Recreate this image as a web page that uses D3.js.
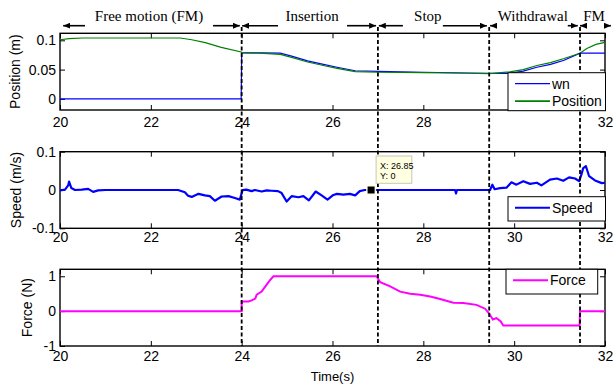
<!DOCTYPE html>
<html>
<head>
<meta charset="utf-8">
<script src="https://cdnjs.cloudflare.com/ajax/libs/d3/7.8.5/d3.min.js"></script>
<style>
  body { margin: 0; background: #fff; }
  svg { display: block; font-family: "Liberation Sans", Arial, sans-serif; }
</style>
</head>
<body>
<svg id="chart" width="613" height="389"></svg>
<script>
"use strict";

// tick values and labels
var xTicks = [20, 22, 24, 26, 28, 30, 32];
var xTickLabels = ["20", "22", "24", "26", "28", "30", "32"];
var xTickLabelsTop = ["20", "22", "24", "26", "28", "", "32"];
var posTicks = [0, 0.05, 0.1];
var posTickLabels = ["0", "0.05", "0.1"];
var speedTicks = [-0.1, 0, 0.1];
var speedTickLabels = ["-0.1", "0", "0.1"];
var forceTicks = [-1, 0, 1];
var forceTickLabels = ["-1", "0", "1"];

// phases
var phaseBounds = [24, 27, 29.45, 31.45];
var phaseNames = ["Free motion (FM)", "Insertion", "Stop", "Withdrawal", "FM"];
var phaseLabelAt = [21.96, 25.55, 28.1, 30.41, 31.76];
// [tail, head] in seconds
var phaseArrows = [
    [20.55, 20.07], [23.37, 23.96],
    [24.8, 24.01], [26.32, 26.96],
    [27.55, 27.02], [28.43, 29.4],
    [29.62, 29.47], [31.18, 31.4],
    [31.6, 31.45], [31.98, 32.13]
];

// [t, wn, position]
var positionData = [
    [20.0, 0, 0.101], [20.2, 0, 0.103], [20.5, 0, 0.104], [22.0, 0, 0.104],
    [22.65, 0, 0.104], [22.9, 0, 0.101], [23.2, 0, 0.096], [23.55, 0, 0.088],
    [23.99, 0, 0.08], [24.0, 0.0785, 0.079], [24.4, 0.0785, 0.078],
    [24.85, 0.078, 0.076], [25.1, 0.073, 0.071], [25.45, 0.065, 0.063],
    [25.8, 0.059, 0.057], [26.1, 0.054, 0.052], [26.5, 0.048, 0.0465],
    [27.0, 0.047, 0.0455], [28.0, 0.0455, 0.0448], [29.0, 0.0442, 0.0438],
    [29.45, 0.0436, 0.0432], [29.9, 0.0436, 0.046], [30.2, 0.0475, 0.05],
    [30.5, 0.054, 0.057], [30.8, 0.059, 0.062], [31.1, 0.066, 0.069],
    [31.45, 0.078, 0.078], [31.6, 0.078, 0.086], [31.8, 0.078, 0.093],
    [32.0, 0.078, 0.0965]
];

// [t, speed]
var speedData = [
    [20.0, -0.001], [20.11, 0.001], [20.18, 0.012], [20.2, 0.022], [20.25, 0.005],
    [20.33, 0.0], [20.48, 0.001], [20.62, 0.003], [20.73, -0.005], [20.84, -0.001],
    [21.0, 0.0], [21.5, 0.0], [22.0, 0.0], [22.53, 0.0], [22.6, 0.0],
    [22.75, -0.006], [22.82, -0.015], [22.9, -0.018], [23.05, -0.01], [23.19, -0.014],
    [23.3, -0.016], [23.41, -0.028], [23.56, -0.017], [23.71, -0.016], [23.85, -0.021],
    [23.96, -0.025], [24.02, 0.0], [24.1, 0.001], [24.22, -0.003], [24.29, 0.0],
    [24.44, -0.004], [24.55, -0.001], [24.66, -0.002], [24.8, -0.003], [24.88, -0.008],
    [24.99, -0.03], [25.1, -0.016], [25.25, -0.019], [25.36, -0.016], [25.48, -0.027],
    [25.63, -0.004], [25.76, -0.014], [25.89, -0.025], [26.02, -0.013], [26.1, -0.01],
    [26.24, -0.012], [26.38, -0.01], [26.5, -0.014], [26.6, -0.003], [26.71, 0.0],
    [26.85, 0.0], [27.5, 0.0], [28.0, 0.0], [28.7, 0.0], [28.72, -0.009],
    [28.74, 0.0], [29.0, 0.0], [29.39, 0.0], [29.47, 0.0], [29.52, 0.014],
    [29.57, 0.002], [29.69, 0.005], [29.83, 0.006], [29.94, 0.02], [30.05, 0.014],
    [30.2, 0.023], [30.35, 0.016], [30.5, 0.019], [30.6, 0.012], [30.79, 0.027],
    [30.94, 0.03], [31.08, 0.024], [31.21, 0.033], [31.34, 0.03], [31.43, 0.023],
    [31.48, 0.04], [31.52, 0.057], [31.58, 0.062], [31.65, 0.036], [31.78, 0.025],
    [31.93, 0.018], [32.0, 0.019]
];

// [t, force]
var forceData = [
    [20, 0], [24, 0], [24.0, 0.28], [24.15, 0.28], [24.22, 0.31], [24.3, 0.36],
    [24.33, 0.47], [24.44, 0.56], [24.51, 0.69], [24.62, 0.88], [24.7, 1.0],
    [26.97, 1.0], [27.05, 0.83], [27.27, 0.71], [27.49, 0.56], [27.71, 0.5],
    [27.93, 0.47], [28.15, 0.42], [28.37, 0.35], [28.66, 0.24], [28.88, 0.23],
    [29.17, 0.18], [29.36, 0.07], [29.45, -0.07], [29.53, -0.24], [29.61, -0.2],
    [29.7, -0.29], [29.76, -0.41], [31.44, -0.41], [31.45, 0], [32, 0]
];

var tipPoint = [26.85, 0];

var svg = d3.select("#chart");
var x = d3.scaleLinear().domain([20, 32]).range([60, 605]);

var panels = [
    { top: 33.3, bottom: 110, domain: [-0.019, 0.112], ticks: posTicks, labels: posTickLabels,
      xLabels: xTickLabelsTop, pad: 7, title: "Position (m)", titleX: 20 },
    { top: 151.7, bottom: 228.3, domain: [-0.1, 0.1], ticks: speedTicks, labels: speedTickLabels,
      xLabels: xTickLabels, pad: 3.5, title: "Speed (m/s)", titleX: 20.5 },
    { top: 269.3, bottom: 346, domain: [-1, 1.2], ticks: forceTicks, labels: forceTickLabels,
      xLabels: xTickLabels, pad: 5.5, title: "Force (N)", titleX: 31.5 }
];

panels.forEach(function (p, i) {
    p.y = d3.scaleLinear().domain(p.domain).range([p.bottom, p.top]);
    var g = svg.append("g");

    svg.append("clipPath").attr("id", "clip" + i)
        .append("rect")
        .attr("x", x.range()[0]).attr("y", p.top)
        .attr("width", x.range()[1] - x.range()[0])
        .attr("height", p.bottom - p.top);

    // inward ticks on all four sides
    var bottomAxis = g.append("g").attr("transform", "translate(0," + p.bottom + ")")
        .call(d3.axisBottom(x).tickValues(xTicks).tickSize(-5).tickPadding(p.pad)
            .tickFormat(function (d, k) { return p.xLabels[k]; }));
    g.append("g").attr("transform", "translate(0," + p.top + ")")
        .call(d3.axisTop(x).tickValues(xTicks).tickSize(-5).tickFormat(""));
    var leftAxis = g.append("g").attr("transform", "translate(" + x.range()[0] + ",0)")
        .call(d3.axisLeft(p.y).tickValues(p.ticks).tickSize(-5).tickPadding(4)
            .tickFormat(function (d, k) { return p.labels[k]; }));
    g.append("g").attr("transform", "translate(" + x.range()[1] + ",0)")
        .call(d3.axisRight(p.y).tickValues(p.ticks).tickSize(-5).tickFormat(""));

    g.selectAll(".domain").remove();
    g.selectAll(".tick line").attr("stroke", "#000").attr("stroke-width", 1);
    g.selectAll(".tick text").attr("fill", "#000")
        .style("font-family", "'Liberation Sans', Arial, sans-serif")
        .style("font-size", "14px");

    g.append("rect")
        .attr("x", x.range()[0]).attr("y", p.top)
        .attr("width", x.range()[1] - x.range()[0])
        .attr("height", p.bottom - p.top)
        .attr("fill", "none").attr("stroke", "#000").attr("stroke-width", 1.4);

    svg.append("text")
        .attr("transform", "translate(" + p.titleX + "," + ((p.top + p.bottom) / 2) + ") rotate(-90)")
        .attr("text-anchor", "middle")
        .style("font-size", "14px")
        .text(p.title);

    p.plot = svg.append("g").attr("clip-path", "url(#clip" + i + ")");
});

// position panel
var pPos = panels[0];
pPos.plot.append("path").datum(positionData)
    .attr("fill", "none").attr("stroke", "#0000ff").attr("stroke-width", 1.2)
    .attr("d", d3.line().x(function (d) { return x(d[0]); }).y(function (d) { return pPos.y(d[1]); }));
pPos.plot.append("path").datum(positionData)
    .attr("fill", "none").attr("stroke", "#008000").attr("stroke-width", 1.2)
    .attr("d", d3.line().x(function (d) { return x(d[0]); }).y(function (d) { return pPos.y(d[2]); }));

// speed panel
var pSpd = panels[1];
pSpd.plot.append("path").datum(speedData)
    .attr("fill", "none").attr("stroke", "#0000ff").attr("stroke-width", 2.2)
    .attr("stroke-linejoin", "round")
    .attr("d", d3.line().x(function (d) { return x(d[0]); }).y(function (d) { return pSpd.y(d[1]); }));

// force panel
var pFrc = panels[2];
pFrc.plot.append("path").datum(forceData)
    .attr("fill", "none").attr("stroke", "#ff00ff").attr("stroke-width", 2)
    .attr("d", d3.line().x(function (d) { return x(d[0]); }).y(function (d) { return pFrc.y(d[1]); }));

// phase boundaries
svg.selectAll(".bound").data(phaseBounds).enter().append("line")
    .attr("x1", function (d) { return x(d); }).attr("x2", function (d) { return x(d); })
    .attr("y1", 27).attr("y2", panels[2].bottom)
    .attr("stroke", "#000").attr("stroke-width", 1.8).attr("stroke-dasharray", "4,2.5");

// phase arrows and names
svg.append("defs").append("marker")
    .attr("id", "head").attr("markerUnits", "userSpaceOnUse")
    .attr("viewBox", "0 -3 7 6").attr("refX", 7).attr("refY", 0)
    .attr("markerWidth", 7).attr("markerHeight", 6).attr("orient", "auto")
    .append("path").attr("d", "M0,-3L7,0L0,3Z").attr("fill", "#000");

svg.selectAll(".arrow").data(phaseArrows).enter().append("line")
    .attr("x1", function (d) { return x(d[0]); }).attr("x2", function (d) { return x(d[1]); })
    .attr("y1", 25.7).attr("y2", 25.7)
    .attr("stroke", "#000").attr("stroke-width", 1.6)
    .attr("marker-end", "url(#head)");

svg.selectAll(".phase").data(phaseNames).enter().append("text")
    .attr("x", function (d, k) { return x(phaseLabelAt[k]); })
    .attr("y", 20.5)
    .attr("text-anchor", "middle")
    .style("font-family", "'Liberation Serif', 'Times New Roman', serif")
    .style("font-size", "15px")
    .text(function (d) { return d; });

// legends
function legend(p, x0, y0, w, h, items) {
    var lg = svg.append("g").attr("transform", "translate(" + x0 + "," + y0 + ")");
    lg.append("rect").attr("width", w).attr("height", h)
        .attr("fill", "#fff").attr("stroke", "#000").attr("stroke-width", 1);
    items.forEach(function (it, k) {
        var yy = 11 + k * 17.4;
        lg.append("line").attr("x1", 7).attr("x2", 42).attr("y1", yy).attr("y2", yy)
            .attr("stroke", it.color).attr("stroke-width", it.width);
        lg.append("text").attr("x", 44).attr("y", yy + 5)
            .style("font-size", "14px").text(it.name);
    });
}
legend(panels[0], 508, 72.7, 97.5, 38, [
    { name: "wn", color: "#0000ff", width: 1.2 },
    { name: "Position", color: "#008000", width: 1.6 }
]);
legend(panels[1], 508, 196.7, 97.5, 24.3, [
    { name: "Speed", color: "#0000ff", width: 2 }
]);
legend(panels[2], 506, 269.3, 91.7, 24.7, [
    { name: "Force", color: "#ff00ff", width: 2 }
]);

// x label
svg.append("text")
    .attr("x", (x.range()[0] + x.range()[1]) / 2).attr("y", 381)
    .attr("text-anchor", "middle")
    .style("font-size", "13px")
    .text("Time(s)");

// data tip
var tx = x(tipPoint[0]), ty = pSpd.y(tipPoint[1]);
svg.append("rect")
    .attr("x", tx - 5).attr("y", ty - 5).attr("width", 10).attr("height", 10)
    .attr("fill", "#ffffe1").attr("opacity", 0.9);
svg.append("rect")
    .attr("x", tx - 3.5).attr("y", ty - 3.5).attr("width", 7).attr("height", 7)
    .attr("fill", "#000");
var tip = svg.append("g").attr("transform", "translate(" + (tx + 5) + "," + (ty - 34) + ")");
tip.append("rect").attr("width", 35.7).attr("height", 27.3)
    .attr("fill", "#ffffe1").attr("stroke", "#c8c8b4").attr("stroke-width", 1);
tip.append("text").attr("x", 4).attr("y", 12.5).style("font-size", "9px")
    .text("X: " + tipPoint[0]);
tip.append("text").attr("x", 4).attr("y", 22.5).style("font-size", "9px")
    .text("Y: " + tipPoint[1]);
</script>
</body>
</html>
